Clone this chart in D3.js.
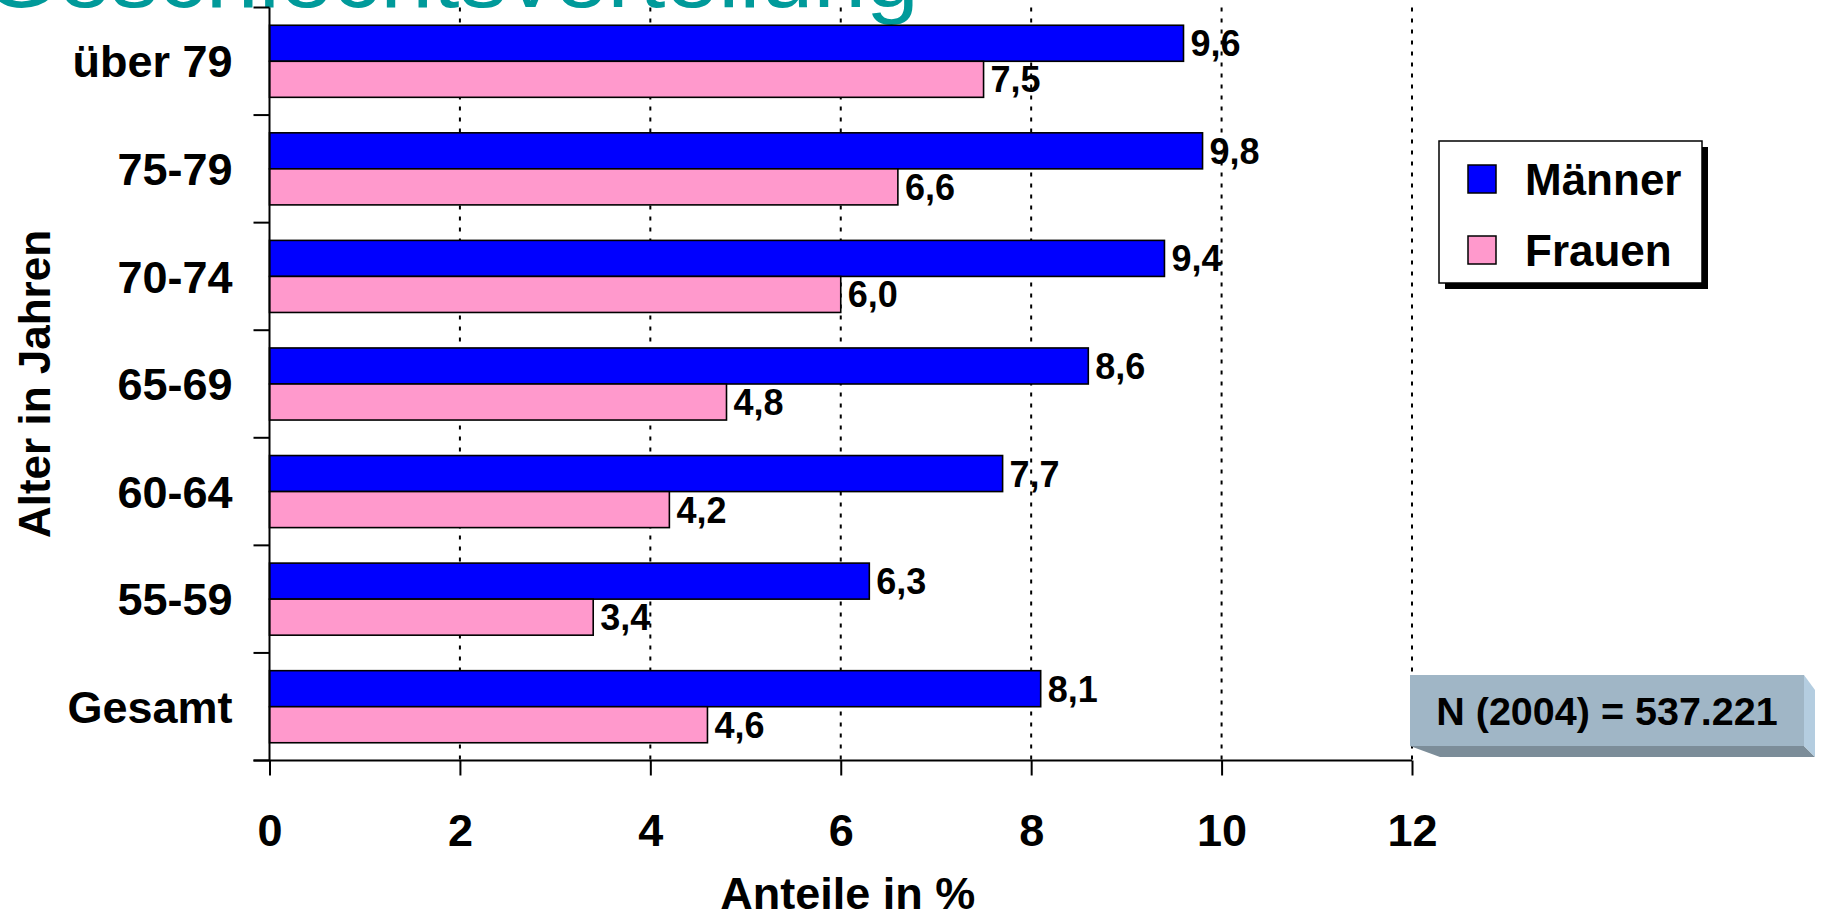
<!DOCTYPE html>
<html>
<head>
<meta charset="utf-8">
<script src="https://cdn.jsdelivr.net/npm/d3@7"></script>
<style>
  html, body { margin: 0; padding: 0; background: #fff; overflow: hidden; }
  svg { display: block; }
  text { font-family: "Liberation Sans", Arial, Helvetica, sans-serif; }
</style>
</head>
<body>
<svg id="chart" width="1821" height="921"></svg>
<script>
// Age groups (top to bottom) and shares in percent per sex
const categories = ["über 79", "75-79", "70-74", "65-69", "60-64", "55-59", "Gesamt"];
const maenner = [9.6, 9.8, 9.4, 8.6, 7.7, 6.3, 8.1];
const frauen  = [7.5, 6.6, 6.0, 4.8, 4.2, 3.4, 4.6];
const seriesNames = ["Männer", "Frauen"];
const seriesColors = ["#0000ff", "#ff99cc"];
const xTicks = [0, 2, 4, 6, 8, 10, 12];
const titleText = "Geschlechtsverteilung";
const xTitle = "Anteile in %";
const yTitle = "Alter in Jahren";
const noteText = "N (2004) = 537.221";

const svg = d3.select("#chart");

const plotLeft = 269.5, plotRight = 1412, plotTop = 7.5, plotBottom = 760.5;

const x = d3.scaleLinear().domain([0, 12]).range([plotLeft, plotRight]);
const y = d3.scaleBand().domain(categories).range([plotTop, plotBottom])
  .paddingInner(0.33).paddingOuter(0.165);
const sub = d3.scaleBand().domain(seriesNames).range([0, y.bandwidth()]);
const color = d3.scaleOrdinal().domain(seriesNames).range(seriesColors);

const rows = categories.map((c, i) => ({ cat: c, values: [
  { key: "Männer", value: maenner[i] },
  { key: "Frauen", value: frauen[i] }
]}));

const fmt = v => d3.format(".1f")(v).replace(".", ",");

// Page title, partly above the visible area
svg.append("text")
  .attr("transform", "translate(-16,7) scale(1.08,1)")
  .attr("font-size", 88)
  .attr("fill", "#009a9a")
  .text(titleText);

// Dotted vertical gridlines
svg.append("g").selectAll("line")
  .data(xTicks.filter(d => d > 0))
  .join("line")
  .attr("x1", d => x(d)).attr("x2", d => x(d))
  .attr("y1", plotTop).attr("y2", plotBottom)
  .attr("stroke", "#000").attr("stroke-width", 2)
  .attr("stroke-dasharray", "4,7");

// Bars
const groups = svg.append("g").selectAll("g")
  .data(rows)
  .join("g")
  .attr("transform", d => `translate(0,${y(d.cat)})`);

groups.selectAll("rect")
  .data(d => d.values)
  .join("rect")
  .attr("x", x(0))
  .attr("y", d => sub(d.key))
  .attr("width", d => x(d.value) - x(0))
  .attr("height", sub.bandwidth())
  .attr("fill", d => color(d.key))
  .attr("stroke", "#000")
  .attr("stroke-width", 1.6);

groups.selectAll("text")
  .data(d => d.values)
  .join("text")
  .attr("x", d => x(d.value) + 7)
  .attr("y", d => sub(d.key) + sub.bandwidth() / 2)
  .attr("dy", "0.36em")
  .attr("font-size", 36)
  .attr("font-weight", "bold")
  .text(d => fmt(d.value));

// X axis
const xAxis = svg.append("g")
  .attr("transform", `translate(0,${plotBottom})`)
  .call(d3.axisBottom(x).tickValues(xTicks).tickSize(15).tickFormat(d3.format("d")));
xAxis.select(".domain").remove();
xAxis.selectAll(".tick line").attr("stroke", "#000").attr("stroke-width", 2);
xAxis.selectAll(".tick text")
  .attr("y", 85).attr("dy", 0)
  .attr("font-size", 45)
  .attr("font-weight", "bold")
  .attr("font-family", "Liberation Sans, Arial, sans-serif")
  .attr("fill", "#000");
svg.append("line")
  .attr("x1", plotLeft - 16).attr("x2", plotRight)
  .attr("y1", plotBottom).attr("y2", plotBottom)
  .attr("stroke", "#000").attr("stroke-width", 2);

// Y axis: labels centred on each band, ticks on the band borders
const yAxis = svg.append("g")
  .attr("transform", `translate(${plotLeft},0)`)
  .call(d3.axisLeft(y).tickSize(0).tickPadding(37));
yAxis.select(".domain").remove();
yAxis.selectAll(".tick text")
  .attr("font-size", 45)
  .attr("font-weight", "bold")
  .attr("font-family", "Liberation Sans, Arial, sans-serif")
  .attr("fill", "#000")
  .attr("dy", "0.36em");

const borders = d3.range(categories.length + 1).map(i => plotTop + i * y.step());
svg.append("g").selectAll("line")
  .data(borders)
  .join("line")
  .attr("x1", plotLeft - 16).attr("x2", plotLeft)
  .attr("y1", d => d).attr("y2", d => d)
  .attr("stroke", "#000").attr("stroke-width", 2);
svg.append("line")
  .attr("x1", plotLeft).attr("x2", plotLeft)
  .attr("y1", plotTop).attr("y2", plotBottom)
  .attr("stroke", "#000").attr("stroke-width", 2);

// Axis titles
svg.append("text")
  .attr("x", (plotLeft + plotRight) / 2 + 7).attr("y", 909)
  .attr("text-anchor", "middle")
  .attr("font-size", 45).attr("font-weight", "bold")
  .text(xTitle);
svg.append("text")
  .attr("transform", `translate(50,${(plotTop + plotBottom) / 2}) rotate(-90)`)
  .attr("text-anchor", "middle")
  .attr("font-size", 44).attr("font-weight", "bold")
  .text(yTitle);

// Legend
const lg = svg.append("g").attr("transform", "translate(1439,141)");
lg.append("rect").attr("x", 6).attr("y", 6).attr("width", 263).attr("height", 142).attr("fill", "#000");
lg.append("rect").attr("width", 263).attr("height", 142)
  .attr("fill", "#fff").attr("stroke", "#000").attr("stroke-width", 1.5);
const li = lg.selectAll("g.item")
  .data(seriesNames)
  .join("g").attr("class", "item")
  .attr("transform", (d, i) => `translate(29,${24 + i * 71})`);
li.append("rect").attr("width", 28).attr("height", 28)
  .attr("fill", d => color(d)).attr("stroke", "#000").attr("stroke-width", 1.5);
li.append("text").attr("x", 57).attr("y", 30)
  .attr("font-size", 44).attr("font-weight", "bold")
  .text(d => d);

// Sample size note on a bevelled plate
const nb = svg.append("g");
nb.append("polygon").attr("points", "1410,746 1804,746 1815,757 1440,757").attr("fill", "#7c8d99");
nb.append("polygon").attr("points", "1804,675 1815,690 1815,757 1804,746").attr("fill", "#b4cde0");
nb.append("rect").attr("x", 1410).attr("y", 675).attr("width", 394).attr("height", 71).attr("fill", "#a0b6c6");
nb.append("text")
  .attr("x", 1607).attr("y", 725)
  .attr("text-anchor", "middle")
  .attr("font-size", 39.5).attr("font-weight", "bold")
  .text(noteText);
</script>
</body>
</html>
